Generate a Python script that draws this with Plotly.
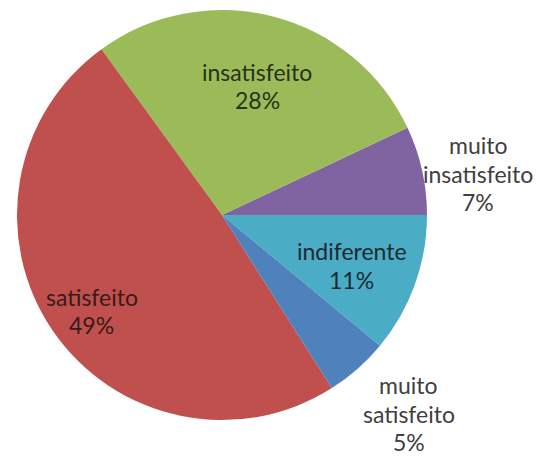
import math
import plotly.graph_objects as go

# Data (plotly order: first slice ends at 3 o'clock, the rest go counterclockwise)
labels = ["indiferente", "muito insatisfeito", "insatisfeito", "satisfeito", "muito satisfeito"]
label_lines = [["indiferente"], ["muito", "insatisfeito"], ["insatisfeito"], ["satisfeito"], ["muito", "satisfeito"]]
values = [11, 7, 28, 49, 5]
colors = ["#4BACC6", "#8064A2", "#9BBB59", "#C0504D", "#4F81BD"]

# label placement style: radius factor and angle tweak (deg), text colour
label_radius = [0.68, 1.265, 0.652, 0.79, 1.33]
label_dangle = [-1.4, -3.5, -0.8, 2.2, 1.8]
label_color = ["#1e2a30", "#404040", "#26331a", "#3a1a18", "#404040"]

W, H = 544, 460
L, R, T, B = 17, 117, 10, 40
pw, ph = W - L - R, H - T - B
rad = min(pw, ph) / 2
cx, cy = L + pw / 2, T + ph / 2
LINE = 28.5
FONT = "Lato"
FSIZE = 23

fig = go.Figure(go.Pie(
    labels=labels,
    values=values,
    textinfo="none",
    sort=False,
    direction="counterclockwise",
    rotation=90,
    marker=dict(colors=colors, line=dict(width=0)),
    showlegend=False,
    hoverinfo="label+percent",
))

total = sum(values)
start = -values[0] / total * 360
cum = 0
annotations = []
for i, v in enumerate(values):
    mid = start + (cum + v / 2) / total * 360 + label_dangle[i]
    cum += v
    px = cx + label_radius[i] * rad * math.cos(math.radians(mid))
    py = cy - label_radius[i] * rad * math.sin(math.radians(mid))
    lines = label_lines[i] + [f"{round(v / total * 100)}%"]
    n = len(lines)
    for j, txt in enumerate(lines):
        ly = py + (j - (n - 1) / 2) * LINE
        annotations.append(dict(
            x=(px - L) / pw, y=1 - (ly - T) / ph,
            xref="paper", yref="paper",
            text=txt, showarrow=False,
            xanchor="center", yanchor="middle",
            font=dict(family=FONT, size=FSIZE, color=label_color[i]),
        ))

fig.update_layout(
    width=W, height=H,
    margin=dict(l=L, r=R, t=T, b=B),
    paper_bgcolor="white",
    plot_bgcolor="white",
    annotations=annotations,
)

fig.write_html("out.html")
